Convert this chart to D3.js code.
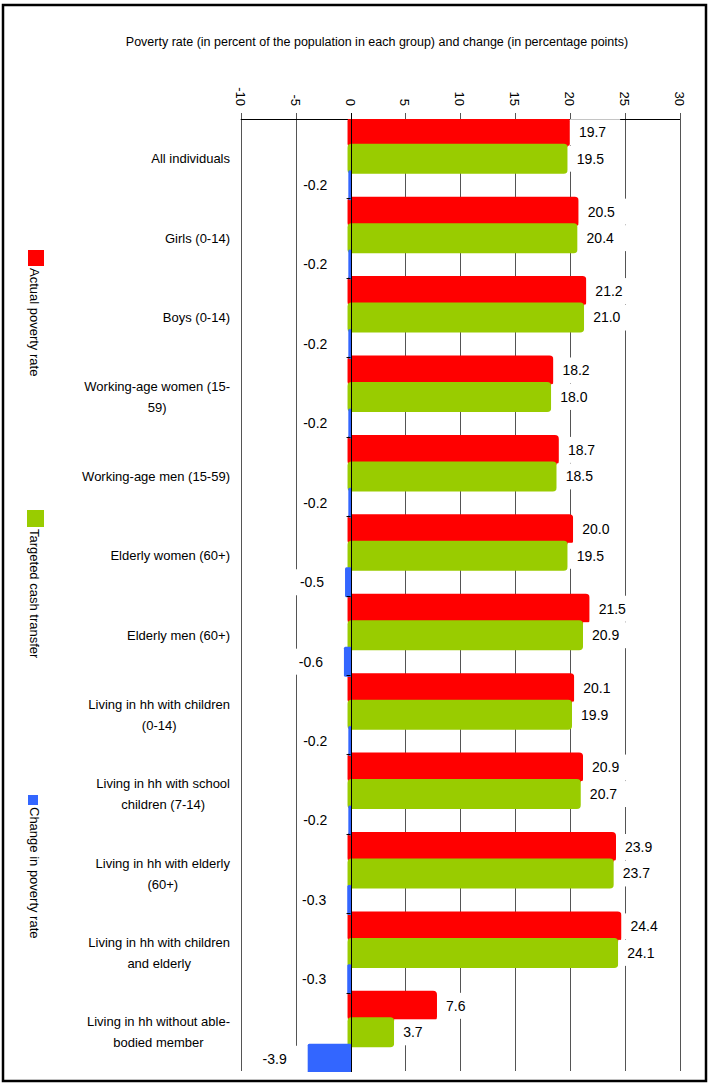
<!DOCTYPE html>
<html>
<head>
<meta charset="utf-8">
<script src="https://cdn.jsdelivr.net/npm/d3@7/dist/d3.min.js"></script>
<style>
  html, body { margin: 0; padding: 0; background: #fff; }
  svg { display: block; font-family: "Liberation Sans", Arial, sans-serif; }
</style>
</head>
<body>
<svg id="chart" width="710" height="1083"></svg>
<script>
// Poverty rates by population group, before/after a targeted cash transfer
const categories = [
  "All individuals",
  "Girls (0-14)",
  "Boys (0-14)",
  "Working-age women (15-59)",
  "Working-age men (15-59)",
  "Elderly women (60+)",
  "Elderly men (60+)",
  "Living in hh with children (0-14)",
  "Living in hh with school children (7-14)",
  "Living in hh with elderly (60+)",
  "Living in hh with children and elderly",
  "Living in hh without able-bodied member"
];
const actualRate   = [19.7, 20.5, 21.2, 18.2, 18.7, 20.0, 21.5, 20.1, 20.9, 23.9, 24.4, 7.6];
const transferRate = [19.5, 20.4, 21.0, 18.0, 18.5, 19.5, 20.9, 19.9, 20.7, 23.7, 24.1, 3.7];
const changeRate   = [-0.2, -0.2, -0.2, -0.2, -0.2, -0.5, -0.6, -0.2, -0.2, -0.3, -0.3, -3.9];
const xTicks = [-10, -5, 0, 5, 10, 15, 20, 25, 30];
const seriesNames = ["Actual poverty rate", "Targeted cash transfer", "Change in poverty rate"];
const seriesColors = ["#ff0000", "#99cc00", "#3366ff"];
const titleText = "Poverty rate (in percent of the population in each group) and change (in percentage points)";

const series = [actualRate, transferRate, changeRate];

const svg = d3.select("#chart");
const plotTop = 119, plotBottom = 1072;

const x = d3.scaleLinear().domain([-10, 30]).range([240.7, 680]);
const y = d3.scaleBand().domain(categories).range([plotTop, plotBottom]).padding(0);
const sub = d3.scaleBand().domain([0, 1, 2]).range([0, y.bandwidth()]).padding(0);
const barH = 30;
const fmt = v => v.toFixed(1);          // plain hyphen-minus for negatives

// clip for bars
svg.append("defs").append("clipPath").attr("id", "plotClip")
  .append("rect").attr("x", 0).attr("y", plotTop).attr("width", 710).attr("height", plotBottom - plotTop);

// vertical gridlines
svg.append("g").selectAll("line").data(xTicks.filter(d => d !== 0)).join("line")
  .attr("x1", d => Math.round(x(d)) + 0.5).attr("x2", d => Math.round(x(d)) + 0.5)
  .attr("y1", 113).attr("y2", plotBottom - 1)
  .attr("stroke", "#555").attr("stroke-width", 1);

// top axis line with rotated tick labels
svg.append("line")
  .attr("x1", x(-10)).attr("x2", x(30)).attr("y1", plotTop + 0.5).attr("y2", plotTop + 0.5)
  .attr("stroke", "#000");
svg.append("g").selectAll("text").data(xTicks).join("text")
  .attr("transform", d => `translate(${x(d) - 5},106) rotate(90)`)
  .attr("text-anchor", "end")
  .attr("font-size", 13)
  .attr("fill", "#000")
  .text(d => d);

// bars, one series at a time so later series overlap earlier ones
const barsG = svg.append("g").attr("clip-path", "url(#plotClip)");
series.forEach((vals, k) => {
  barsG.append("g").selectAll("rect").data(vals.map((v, i) => ({ v, c: categories[i] }))).join("rect")
    .attr("x", d => d.v >= 0 ? x(0) - 3 : x(d.v))
    .attr("width", d => d.v >= 0 ? x(d.v) - x(0) + 6 : x(0) - x(d.v) + 1)
    .attr("y", d => y(d.c) + sub(k) + sub.bandwidth() / 2 - barH / 2)
    .attr("height", barH)
    .attr("rx", d => d.v >= 0 ? 4 : 1.5)
    .attr("fill", seriesColors[k]);
});

// zero line and category ticks
svg.append("line")
  .attr("x1", Math.round(x(0)) + 0.5).attr("x2", Math.round(x(0)) + 0.5)
  .attr("y1", 113).attr("y2", plotBottom)
  .attr("stroke", "#000");
svg.append("g").selectAll("line").data(categories.slice(1)).join("line")
  .attr("x1", x(0) - 4).attr("x2", x(0))
  .attr("y1", d => Math.round(y(d)) + 0.5).attr("y2", d => Math.round(y(d)) + 0.5)
  .attr("stroke", "#000");

// value labels on white backgrounds
const labelsG = svg.append("g");
series.forEach((vals, k) => {
  vals.forEach((v, i) => {
    const cy = y(categories[i]) + sub(k) + sub.bandwidth() / 2;
    const g = labelsG.append("g");
    const bg = g.append("rect").attr("fill", "#fff");
    const t = g.append("text")
      .attr("font-size", 14)
      .attr("fill", "#000")
      .attr("y", cy)
      .attr("dy", "0.35em")
      .text(fmt(v));
    const w = t.node().getComputedTextLength();
    if (v >= 0) {
      const tx = x(v) + 12;
      t.attr("x", tx).attr("text-anchor", "start");
      bg.attr("x", x(v) + 3).attr("width", tx + w + 14 - (x(v) + 3));
    } else {
      const tx = x(v) - 21;
      t.attr("x", tx).attr("text-anchor", "end");
      bg.attr("x", tx - w - 4).attr("width", (x(v) - 1) - (tx - w - 4));
    }
    bg.attr("y", cy - 13).attr("height", 26);
  });
});

// category labels, wrapped and centred as a block ending at x=230
const catG = svg.append("g");
const maxLabelW = 150;
categories.forEach(c => {
  const cy = y(c) + sub(1) + sub.bandwidth() / 2;
  const tokens = c.match(/[^\s-]+-?\s*|-\s*/g);
  const probe = catG.append("text").attr("font-size", 13);
  const lines = [];
  let cur = "";
  tokens.forEach(tok => {
    const trial = cur + tok;
    probe.text(trial.trim());
    if (cur && probe.node().getComputedTextLength() > maxLabelW) {
      lines.push(cur.trim());
      cur = tok;
    } else {
      cur = trial;
    }
  });
  if (cur) lines.push(cur.trim());
  const widths = lines.map(l => { probe.text(l); return probe.node().getComputedTextLength(); });
  probe.remove();
  const blockW = d3.max(widths);
  const lh = 21;
  const cx = 230 - blockW / 2;
  const t = catG.append("text").attr("font-size", 13).attr("fill", "#000").attr("text-anchor", "middle");
  lines.forEach((l, j) => {
    t.append("tspan").attr("x", cx)
      .attr("y", cy + (j - (lines.length - 1) / 2) * lh)
      .attr("dy", "0.35em")
      .text(l);
  });
});

// legend, rotated
const legendPos = [
  { sx: 28, sy: 250, s: 16, ty: 268 },
  { sx: 27, sy: 510, s: 17, ty: 529 },
  { sx: 28, sy: 795, s: 10, ty: 807 }
];
const legG = svg.append("g");
seriesNames.forEach((name, k) => {
  const p = legendPos[k];
  legG.append("rect").attr("x", p.sx).attr("y", p.sy).attr("width", p.s).attr("height", p.s)
    .attr("fill", seriesColors[k]);
  legG.append("text")
    .attr("transform", `translate(30,${p.ty}) rotate(90)`)
    .attr("font-size", 13).attr("fill", "#000")
    .text(name);
});

// title
svg.append("text").attr("x", 377).attr("y", 46).attr("text-anchor", "middle")
  .attr("font-size", 12.5).attr("fill", "#000").text(titleText);

// frame
svg.append("rect").attr("x", 3).attr("y", 5).attr("width", 703).attr("height", 1076)
  .attr("fill", "none").attr("stroke", "#000").attr("stroke-width", 2.5);
</script>
</body>
</html>
